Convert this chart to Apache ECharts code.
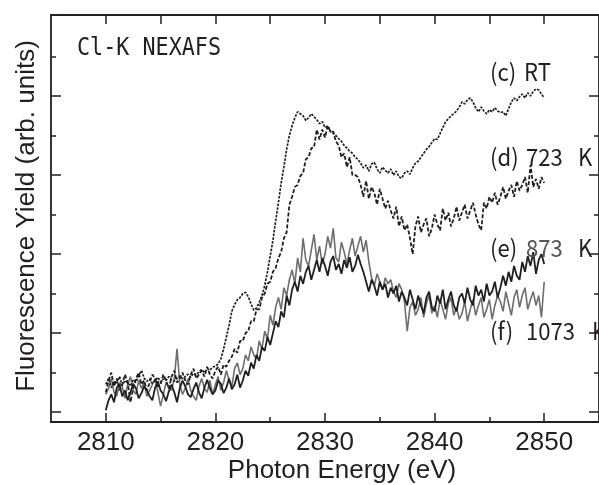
<!DOCTYPE html>
<html>
<head>
<meta charset="utf-8">
<script src="https://cdn.jsdelivr.net/npm/echarts@6/dist/echarts.min.js"></script>
<style>html,body{margin:0;padding:0;background:#fff;}#chart{width:599px;height:485px;}</style>
</head>
<body>
<div id="chart"></div>
<script>
// Photon energy grid (eV)
const energy = [
2810,2810.25,2810.5,2810.75,2811,2811.25,2811.5,2811.75,
2812,2812.25,2812.5,2812.75,2813,2813.25,2813.5,2813.75,
2814,2814.25,2814.5,2814.75,2815,2815.25,2815.5,2815.75,
2816,2816.25,2816.5,2816.75,2817,2817.25,2817.5,2817.75,
2818,2818.25,2818.5,2818.75,2819,2819.25,2819.5,2819.75,
2820,2820.25,2820.5,2820.75,2821,2821.25,2821.5,2821.75,
2822,2822.25,2822.5,2822.75,2823,2823.25,2823.5,2823.75,
2824,2824.25,2824.5,2824.75,2825,2825.25,2825.5,2825.75,
2826,2826.25,2826.5,2826.75,2827,2827.25,2827.5,2827.75,
2828,2828.25,2828.5,2828.75,2829,2829.25,2829.5,2829.75,
2830,2830.25,2830.5,2830.75,2831,2831.25,2831.5,2831.75,
2832,2832.25,2832.5,2832.75,2833,2833.25,2833.5,2833.75,
2834,2834.25,2834.5,2834.75,2835,2835.25,2835.5,2835.75,
2836,2836.25,2836.5,2836.75,2837,2837.25,2837.5,2837.75,
2838,2838.25,2838.5,2838.75,2839,2839.25,2839.5,2839.75,
2840,2840.25,2840.5,2840.75,2841,2841.25,2841.5,2841.75,
2842,2842.25,2842.5,2842.75,2843,2843.25,2843.5,2843.75,
2844,2844.25,2844.5,2844.75,2845,2845.25,2845.5,2845.75,
2846,2846.25,2846.5,2846.75,2847,2847.25,2847.5,2847.75,
2848,2848.25,2848.5,2848.75,2849,2849.25,2849.5,2849.75,
2850];

// (c) RT
const yieldRT = [
0.70,0.85,0.62,0.78,0.72,0.90,0.68,0.80,
0.74,0.66,0.82,0.76,0.92,1.05,0.86,0.78,
0.84,0.72,0.80,0.88,0.76,0.84,0.80,0.90,
0.82,0.78,0.86,0.92,0.84,0.90,0.96,0.88,
0.98,0.94,1.02,1.08,1.00,1.10,1.06,1.14,
1.16,1.22,1.35,1.60,1.90,2.20,2.55,2.72,
2.84,2.90,3.00,3.03,2.92,2.74,2.58,2.64,
2.78,2.95,3.20,3.55,3.95,4.35,4.85,5.30,
5.80,6.20,6.65,7.00,7.25,7.45,7.60,7.55,
7.50,7.38,7.45,7.55,7.48,7.40,7.30,7.35,
7.20,7.24,7.10,7.05,7.00,6.92,6.85,6.75,
6.68,6.60,6.55,6.45,6.40,6.30,6.18,6.25,
6.10,6.28,6.32,6.15,6.05,6.20,6.12,6.05,
6.15,6.00,6.10,5.95,5.92,6.05,6.10,6.02,
6.18,6.30,6.35,6.45,6.55,6.65,6.72,6.82,
6.92,6.90,7.05,7.20,7.35,7.42,7.50,7.55,
7.62,7.72,7.85,7.80,7.90,7.95,7.85,7.70,
7.60,7.72,7.62,7.55,7.65,7.60,7.70,7.62,
7.58,7.60,7.50,7.68,7.85,7.95,7.88,7.98,
8.05,7.95,8.08,8.00,8.12,8.18,8.15,8.05,
7.95];

// (d) 723 K
const yield723 = [
0.50,0.80,1.00,0.65,0.85,0.55,0.70,0.95,
0.75,0.25,0.60,0.85,1.00,0.70,0.80,0.55,
0.75,0.95,0.85,0.65,0.70,0.95,0.80,0.60,
0.90,1.05,0.75,0.85,1.00,0.80,0.70,0.95,
1.10,0.85,0.95,1.05,0.90,1.15,0.95,0.85,
1.05,1.15,0.95,1.20,1.15,1.30,1.40,1.60,
1.50,1.80,1.80,2.00,2.05,2.30,2.30,2.60,
2.60,2.90,3.00,3.25,3.30,3.55,3.65,3.90,
4.05,4.40,4.55,5.25,5.45,5.70,5.75,5.98,
6.05,6.40,6.45,6.68,6.70,7.15,6.90,7.15,
6.95,7.25,7.10,7.10,6.85,6.75,6.45,6.55,
6.20,6.45,6.00,6.00,5.95,5.75,5.45,5.85,
5.40,5.70,5.55,5.25,5.65,5.40,5.15,5.35,
5.10,4.90,5.20,4.70,4.95,4.60,4.75,4.40,
4.00,4.70,4.95,4.55,4.75,4.90,4.45,4.65,
5.00,4.75,4.60,5.15,4.85,5.05,4.70,4.90,
5.20,4.85,5.05,5.25,4.90,5.10,5.30,5.00,
4.75,4.60,5.30,5.15,5.45,5.30,5.55,5.25,
5.45,5.70,5.40,5.60,5.75,5.45,5.85,5.60,
5.75,5.95,5.55,6.25,5.70,5.90,5.65,5.95,
5.80];

// (e) 873 K
const yield873 = [
0.45,0.60,0.85,0.50,0.40,0.75,0.65,0.35,
0.70,0.90,0.55,0.45,0.80,0.60,0.75,0.40,
0.55,0.70,0.85,0.50,0.15,0.45,0.75,0.60,
0.55,0.85,1.60,0.70,0.45,0.60,0.85,0.55,
0.40,0.30,0.65,0.85,0.60,0.50,0.80,0.45,
0.70,0.90,0.55,0.75,1.05,0.80,0.65,1.10,
1.25,0.95,1.10,1.45,1.30,1.65,1.45,1.35,
1.80,1.60,2.05,1.85,2.45,2.20,2.65,2.90,
2.60,3.15,2.95,3.35,3.60,3.25,3.90,3.55,
4.40,3.85,3.70,4.10,4.50,3.85,4.20,3.75,
4.00,4.45,4.15,4.65,3.90,3.80,4.30,4.05,
3.75,4.10,4.40,3.95,4.20,4.45,4.05,4.35,
3.80,3.40,3.20,3.50,3.30,3.10,3.40,3.25,
3.35,3.05,2.90,3.25,3.10,2.80,2.05,2.65,
2.80,2.45,2.60,2.90,2.40,2.75,2.95,2.50,
2.70,2.40,2.85,2.60,2.35,2.75,2.90,2.45,
2.65,2.35,2.50,2.80,2.30,2.60,2.85,2.45,
2.70,2.90,2.40,2.60,2.85,2.35,2.70,2.95,
2.80,2.55,3.05,2.75,2.45,2.90,3.10,2.65,
2.95,3.15,2.60,2.85,3.05,2.70,2.95,2.40,
3.30];

// (f) 1073 K
const yield1073 = [
0.05,0.30,0.45,0.25,0.62,0.70,0.40,0.55,
0.30,0.50,0.72,0.60,0.35,0.48,0.65,0.55,
0.40,0.30,0.62,0.78,0.55,0.45,0.28,0.52,
0.70,0.50,0.25,0.60,0.80,0.65,0.45,0.38,
0.58,0.75,0.50,0.35,0.62,0.82,0.60,0.45,
0.55,0.80,0.72,0.48,0.62,0.85,0.58,0.70,
0.95,0.62,0.80,1.05,0.92,1.25,1.10,1.45,
1.30,1.65,1.55,1.90,1.70,2.00,2.30,2.15,
2.55,2.40,2.95,2.70,3.10,3.30,3.05,3.45,
3.25,3.55,3.70,3.35,3.60,3.85,3.55,3.90,
3.70,3.45,3.80,3.95,3.60,3.75,3.50,3.85,
3.65,3.92,3.55,3.70,3.98,3.75,3.55,3.30,
3.05,3.35,3.20,2.95,3.30,3.10,3.25,2.90,
3.15,3.00,3.20,2.80,3.05,2.90,2.70,3.10,
2.85,2.60,2.95,2.70,2.50,2.90,3.05,2.65,
2.55,2.95,2.75,3.10,2.60,2.85,3.05,2.70,
2.55,2.90,3.00,2.75,3.15,2.85,2.70,3.20,
2.95,3.10,2.80,3.25,2.95,3.05,3.30,2.90,
3.15,3.45,3.20,3.55,3.30,3.70,3.45,3.35,
3.80,3.55,3.95,3.70,4.05,3.50,3.85,4.00,
3.75];

// Tick positions
const xMajorTicks = [2810, 2820, 2830, 2840, 2850];
const xMinorTicks = [2815, 2825, 2835, 2845];
const yMajorTicks = [0, 2, 4, 6, 8];
const yMinorTicks = [1, 3, 5, 7, 9];

const INK = '#231f20';
const GRAY = '#6e6e6e';
const X_MIN = 2805, X_MAX = 2855, Y_MIN = -0.25, Y_MAX = 10.05;

function pairs(ys) { return energy.map((e, i) => [e, ys[i]]); }

const chart = echarts.init(document.getElementById('chart'), null, { renderer: 'canvas' });

function xAx(pos, ticks, len, showLine, showLabel) {
  return {
    type: 'value', position: pos, min: X_MIN, max: X_MAX,
    axisLine: { show: showLine, onZero: false, lineStyle: { color: INK, width: 1.8 } },
    axisTick: { show: true, inside: true, length: len, customValues: ticks, lineStyle: { color: INK, width: 1.5 } },
    axisLabel: showLabel ? { show: true, customValues: xMajorTicks, formatter: v => String(v),
      fontSize: 26, fontFamily: '"Liberation Sans", Arial, sans-serif', color: INK, margin: 8 } : { show: false },
    splitLine: { show: false }
  };
}
function yAx(pos, ticks, len, showLine) {
  return {
    type: 'value', position: pos, min: Y_MIN, max: Y_MAX,
    axisLine: { show: showLine, onZero: false, lineStyle: { color: INK, width: 1.8 } },
    axisTick: { show: true, inside: true, length: len, customValues: ticks, lineStyle: { color: INK, width: 1.5 } },
    axisLabel: { show: false },
    splitLine: { show: false }
  };
}

const topTicks = xMajorTicks.concat(xMinorTicks);

const labelFont = '24px "Noto Sans CJK JP", "Liberation Sans", sans-serif';
function txt(text, x, y, color, font, sx) {
  return {
    type: 'text', x: x, y: y, scaleX: sx || 0.92, silent: true, z: 100,
    style: { text: text, font: font || labelFont, fill: color || INK,
      textAlign: 'left', align: 'left', textVerticalAlign: 'middle', verticalAlign: 'middle' }
  };
}

const option = {
  animation: false,
  backgroundColor: '#fff',
  grid: { left: 51, right: -8, top: 15, bottom: 63, containLabel: false },
  xAxis: [
    xAx('bottom', xMajorTicks, 9, true, true),
    xAx('bottom', xMinorTicks, 5, false, false),
    xAx('top', topTicks, 9, true, false)
  ],
  yAxis: [
    yAx('left', yMajorTicks, 10, true),
    yAx('left', yMinorTicks, 5, false),
    yAx('right', yMajorTicks, 10, true),
    yAx('right', yMinorTicks, 5, false)
  ],
  series: [
    { name: '(e) 873 K', type: 'line', data: pairs(yield873), showSymbol: false, symbol: 'none',
      lineStyle: { color: GRAY, width: 1.6 }, z: 2 },
    { name: '(f) 1073 K', type: 'line', data: pairs(yield1073), showSymbol: false, symbol: 'none',
      lineStyle: { color: INK, width: 1.8 }, z: 3 },
    { name: '(d) 723 K', type: 'line', data: pairs(yield723), showSymbol: false, symbol: 'none',
      lineStyle: { color: INK, width: 1.8, type: [4, 2] }, z: 4 },
    { name: '(c) RT', type: 'line', data: pairs(yieldRT), showSymbol: false, symbol: 'none',
      lineStyle: { color: INK, width: 1.7, type: [2.5, 1.3] }, z: 5 }
  ],
  graphic: [
    txt('Cl-K NEXAFS', 77, 48, INK, '25px "DejaVu Sans Mono", monospace', 0.87),
    txt('(c)', 490, 72), txt('RT', 524, 72),
    txt('(d)', 490, 157), txt('723', 526, 157), txt('K', 578, 157),
    txt('(e)', 490, 248), txt('873', 526, 248, '#555555'), txt('K', 578, 248),
    txt('(f)', 490, 331), txt('1073', 526, 331), txt('K', 592, 331),
    {
      type: 'text', x: 27, y: 216, rotation: Math.PI / 2, silent: true, z: 100,
      style: { text: 'Fluorescence Yield (arb. units)', font: '26px "Liberation Sans", Arial, sans-serif',
        fill: INK, textAlign: 'center', align: 'center', textVerticalAlign: 'middle', verticalAlign: 'middle' }
    },
    {
      type: 'text', x: 342, y: 471, silent: true, z: 100,
      style: { text: 'Photon Energy (eV)', font: '26px "Liberation Sans", Arial, sans-serif',
        fill: INK, textAlign: 'center', align: 'center', textVerticalAlign: 'middle', verticalAlign: 'middle' }
    }
  ]
};
chart.setOption(option);
</script>
</body>
</html>
